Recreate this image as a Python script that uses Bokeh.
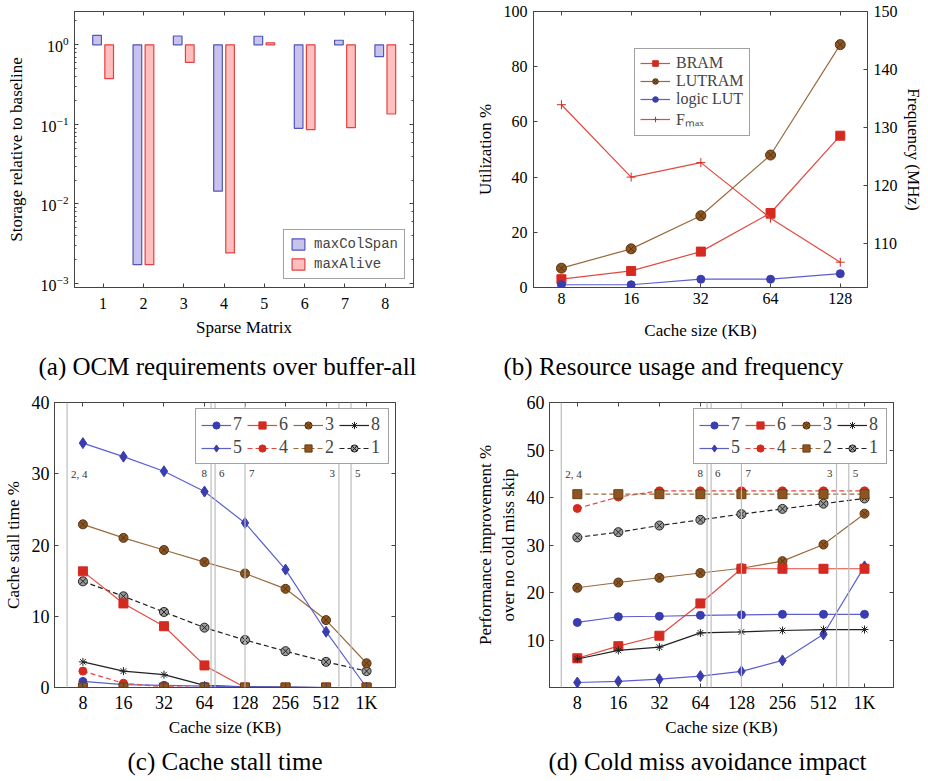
from bokeh.plotting import figure
from bokeh.layouts import column, row
from bokeh.models import (Range1d, LinearAxis, LogAxis, FixedTicker, LogTicker, Legend,
                          LegendItem, Title, BasicTickFormatter, Span, ColumnDataSource)
from bokeh.transform import dodge
from bokeh.core.properties import value
from bokeh.embed import file_html
from bokeh.resources import INLINE

# ---------------- data ----------------
# (a) OCM requirements over buffer-all
matrices = [1, 2, 3, 4, 5, 6, 7, 8]
max_col_span = [1.31, 0.00173, 1.29, 0.0145, 1.28, 0.0893, 1.14, 0.712]
max_alive = [0.375, 0.00173, 0.601, 0.00243, 1.06, 0.086, 0.091, 0.135]

# (b) Resource usage and frequency
cache_b = [8, 16, 32, 64, 128]
bram = [3.0, 6.0, 13.0, 27.0, 55.0]
lutram = [7.0, 14.0, 26.0, 48.0, 88.0]
logic_lut = [1.0, 1.0, 3.0, 3.0, 5.0]
fmax = [133.9, 121.4, 123.9, 114.3, 106.7]

# (c), (d)
cache_kb = [8, 16, 32, 64, 128, 256, 512, 1024]
cache_labels = ["8", "16", "32", "64", "128", "256", "512", "1K"]
series_names = ["7", "6", "3", "8", "5", "4", "2", "1"]
stall = {
    "7": [0.85, 0.4, 0.3, 0.2, 0.1, 0.05, 0.0, 0.0],
    "6": [16.3, 11.8, 8.6, 3.1, 0.0, 0.0, 0.0, 0.0],
    "3": [22.9, 21.0, 19.3, 17.6, 16.0, 13.85, 9.46, 3.4],
    "8": [3.6, 2.3, 1.8, 0.3, 0.1, 0.05, 0.0, 0.0],
    "5": [34.3, 32.4, 30.35, 27.5, 23.1, 16.55, 7.83, 0.0],
    "4": [2.3, 0.6, 0.1, 0.0, 0.0, 0.0, 0.0, 0.0],
    "2": [0.0, 0.0, 0.0, 0.0, 0.0, 0.0, 0.0, 0.0],
    "1": [14.9, 12.8, 10.6, 8.4, 6.67, 5.1, 3.6, 2.3],
}
improvement = {
    "7": [13.7, 14.9, 15.0, 15.2, 15.3, 15.4, 15.4, 15.4],
    "6": [6.15, 8.7, 10.9, 17.7, 25.0, 25.0, 25.0, 25.0],
    "3": [21.0, 22.1, 23.1, 24.1, 25.1, 26.6, 30.1, 36.6],
    "8": [6.0, 7.8, 8.5, 11.5, 11.7, 12.0, 12.2, 12.2],
    "5": [1.05, 1.3, 1.75, 2.4, 3.4, 5.7, 11.2, 25.5],
    "4": [37.7, 40.1, 41.4, 41.4, 41.4, 41.4, 41.4, 41.4],
    "2": [40.7, 40.7, 40.7, 40.7, 40.7, 40.7, 40.7, 40.7],
    "1": [31.6, 32.7, 34.1, 35.3, 36.5, 37.6, 38.7, 39.8],
}
ws_labels = ["2, 4", "8", "6", "7", "3", "5"]
ws_kb = [6.1, 71.6, 76.7, 128, 638, 785]

# ---------------- style ----------------
SERIF = "Liberation Serif"
MONO = "Liberation Mono"
BLUE_F, BLUE_L = "#3a3db0", "#5b5fd0"
RED_F, RED_L = "#d42a20", "#e24a40"
BROWN_F, BROWN_L = "#8c5523", "#9a6a3e"
BLACK = "#222222"
AX = "#444444"

STYLE = {
    "7": dict(marker="circle", size=8, fill=BLUE_F, edge=BLUE_F, line=BLUE_L, dash="solid"),
    "6": dict(marker="square", size=9, fill=RED_F, edge=RED_F, line=RED_L, dash="solid"),
    "3": dict(marker="circle_x", size=9, fill=BROWN_F, edge="#5a3510", line=BROWN_L, dash="solid"),
    "8": dict(marker="asterisk", size=8, fill=BLACK, edge=BLACK, line=BLACK, dash="solid"),
    "5": dict(marker="diamond", size=11, fill=BLUE_F, edge=BLUE_F, line=BLUE_L, dash="solid"),
    "4": dict(marker="circle", size=8, fill=RED_F, edge=RED_F, line=RED_L, dash="5 3"),
    "2": dict(marker="square", size=9, fill=BROWN_F, edge="#6a4010", line=BROWN_L, dash="5 3"),
    "1": dict(marker="circle_x", size=9, fill="#9a9a9a", edge=BLACK, line=BLACK, dash="5 3"),
}


def base_style(p, tick_size="16px", label_size="17px", minor=False,
               x_std=(5, 6), y_std=(5, 6)):
    p.outline_line_color = AX
    p.outline_line_width = 1
    p.grid.grid_line_color = None
    p.background_fill_color = "white"
    p.border_fill_color = "white"
    for ax in p.axis:
        if getattr(ax, "tags", None) == ["mirror"]:
            continue
        ax.major_tick_in = 4
        ax.major_tick_out = 0
        ax.minor_tick_in = 2
        ax.minor_tick_out = 0
        ax.major_tick_line_color = AX
        ax.minor_tick_line_color = AX if minor else None
        ax.axis_line_color = AX
        ax.major_label_text_font = SERIF
        ax.major_label_text_font_size = tick_size
        ax.major_label_text_color = "black"
        ax.axis_label_text_font = SERIF
        ax.axis_label_text_font_size = label_size
        ax.axis_label_text_font_style = "normal"
        ax.axis_label_text_color = "black"
    for ax in p.xaxis:
        if ax.tags != ["mirror"]:
            ax.major_label_standoff, ax.axis_label_standoff = x_std
    for ax in p.yaxis:
        if ax.tags != ["mirror"]:
            ax.major_label_standoff, ax.axis_label_standoff = y_std


def mirror(p, where, ticker, log=False, minor=False):
    ax = (LogAxis if log else LinearAxis)(ticker=ticker, tags=["mirror"])
    ax.major_label_text_font_size = "1px"
    ax.major_label_text_alpha = 0
    ax.major_label_standoff = 0
    ax.major_tick_in = 4
    ax.major_tick_out = 0
    ax.minor_tick_in = 2
    ax.minor_tick_out = 0
    ax.major_tick_line_color = AX
    ax.minor_tick_line_color = AX if minor else None
    ax.axis_line_color = AX
    p.add_layout(ax, where)
    return ax


def caption(p, text, standoff, offset):
    t = Title(text=text, align="left", offset=offset, text_font=SERIF, text_font_size="25px",
              text_font_style="normal", text_color="black", standoff=standoff)
    p.add_layout(t, "below")


# ---------------- (a) ----------------
pa = figure(width=464, height=390, y_axis_type="log", x_range=Range1d(0.29, 8.70),
            y_range=Range1d(8.93e-4, 2.62), output_backend="svg", toolbar_location=None,
            min_border_left=74, min_border_right=51, min_border_top=7, min_border_bottom=101)
src_a = ColumnDataSource(dict(m=matrices, cs=max_col_span, al=max_alive))
r_cs = pa.vbar(x=dodge("m", -0.15, range=pa.x_range), top="cs", bottom=1, width=0.215, source=src_a,
               fill_color="#c8c3ec", line_color="#5256b8", line_width=1.2)
r_al = pa.vbar(x=dodge("m", 0.15, range=pa.x_range), top="al", bottom=1, width=0.215, source=src_a,
               fill_color="#ffbfbf", line_color="#e34040", line_width=1.2)
pa.xaxis.ticker = FixedTicker(ticks=matrices)
pa.xaxis.axis_label = "Sparse Matrix"
pa.yaxis.axis_label = "Storage relative to baseline"
base_style(pa, minor=True, x_std=(10, 6), y_std=(6, 12))
pa.xaxis.minor_tick_line_color = None
mirror(pa, "above", FixedTicker(ticks=matrices))
mirror(pa, "right", LogTicker(), log=True, minor=True)
leg_a = Legend(items=[LegendItem(label="maxColSpan", renderers=[r_cs]),
                      LegendItem(label="maxAlive", renderers=[r_al])],
               location="bottom_right", label_text_font=MONO, label_text_font_size="14px",
               border_line_color=AX, border_line_width=1.2, background_fill_alpha=1,
               glyph_width=16, glyph_height=14, label_standoff=8, padding=6, spacing=4, margin=8)
pa.add_layout(leg_a)
caption(pa, "(a) OCM requirements over buffer-all", 22, -36)

# ---------------- (b) ----------------
pb = figure(width=464, height=390, x_axis_type="log", x_range=Range1d(6.06, 167.8),
            y_range=Range1d(0, 100), output_backend="svg", toolbar_location=None,
            min_border_left=69, min_border_right=61, min_border_top=11, min_border_bottom=102)
pb.extra_y_ranges = {"freq": Range1d(102.33, 150)}
l1 = pb.line(cache_b, bram, color=RED_L, line_width=1.2)
m1 = pb.scatter(cache_b, bram, marker="square", size=9, fill_color=RED_F, line_color=RED_F)
l2 = pb.line(cache_b, lutram, color=BROWN_L, line_width=1.2)
m2 = pb.scatter(cache_b, lutram, marker="circle_x", size=10, fill_color=BROWN_F, line_color="#5a3510")
l3 = pb.line(cache_b, logic_lut, color=BLUE_L, line_width=1.2)
m3 = pb.scatter(cache_b, logic_lut, marker="circle", size=8, fill_color=BLUE_F, line_color=BLUE_F)
l4 = pb.line(cache_b, fmax, color=RED_L, line_width=1.2, y_range_name="freq")
m4 = pb.scatter(cache_b, fmax, marker="cross", size=9, line_color=RED_F, y_range_name="freq")
pb.xaxis.ticker = FixedTicker(ticks=cache_b)
pb.xaxis.formatter = BasicTickFormatter()
pb.yaxis.ticker = FixedTicker(ticks=[0, 20, 40, 60, 80, 100])
pb.xaxis.axis_label = "Cache size (KB)"
pb.yaxis.axis_label = "Utilization %"
raxis = LinearAxis(y_range_name="freq", ticker=FixedTicker(ticks=[110, 120, 130, 140, 150]),
                   axis_label="Frequency (MHz)")
pb.add_layout(raxis, "right")
base_style(pb, x_std=(5, 14), y_std=(6, 6))
raxis.axis_label_standoff = 3
mirror(pb, "above", FixedTicker(ticks=cache_b))
leg_b = Legend(items=[LegendItem(label="BRAM", renderers=[l1, m1]),
                      LegendItem(label="LUTRAM", renderers=[l2, m2]),
                      LegendItem(label="logic LUT", renderers=[l3, m3]),
                      LegendItem(label="Fₘₐₓ", renderers=[l4, m4])],
               location=(101, 151), label_text_font=SERIF, label_text_font_size="16px",
               border_line_color=AX, border_line_width=1.2, background_fill_alpha=1,
               glyph_width=30, glyph_height=14, label_height=16, label_standoff=6,
               padding=5, spacing=0)
pb.add_layout(leg_b)
caption(pb, "(b) Resource usage and frequency", 16, -30)


# ---------------- (c), (d) ----------------
def cache_panel(data, yr, yticks, ylabel, left, right, ws_y, cap, xr, cap_off):
    p = figure(width=464, height=391, x_axis_type="log", x_range=Range1d(*xr),
               y_range=Range1d(*yr), output_backend="svg", toolbar_location=None,
               min_border_left=left, min_border_right=right, min_border_top=12, min_border_bottom=93)
    for v in ws_kb:
        p.add_layout(Span(location=v, dimension="height", line_color="#bdbdbd", line_width=1.2))
    sides = ["left" if lab in ("8", "3") else "right" for lab in ws_labels]
    src = ColumnDataSource(dict(x=ws_kb, y=[ws_y] * len(ws_kb), t=ws_labels,
                                align=["right" if s == "left" else "left" for s in sides],
                                off=[-4 if s == "left" else 4 for s in sides]))
    p.text(x="x", y="y", text="t", source=src, text_align="align", x_offset="off",
           text_baseline="middle", text_font=value(SERIF), text_font_size="11px", text_color="#333333")
    items = {}
    draw_order = ["1", "3", "5", "6", "8", "7", "4", "2"]
    for name in draw_order:
        s = STYLE[name]
        ln = p.line(cache_kb, data[name], color=s["line"], line_width=1.2, line_dash=s["dash"])
        mk = p.scatter(cache_kb, data[name], marker=s["marker"], size=s["size"],
                       fill_color=s["fill"], line_color=s["edge"])
        items[name] = LegendItem(label=name, renderers=[ln, mk])
    leg = Legend(items=[items[n] for n in series_names], orientation="horizontal", ncols=4,
                 location="top_right", label_text_font=SERIF, label_text_font_size="18px",
                 border_line_color=AX, border_line_width=1.2, background_fill_alpha=1,
                 glyph_width=30, glyph_height=18, label_standoff=2, label_width=12,
                 padding=5, spacing=2, margin=6, label_height=18)
    p.add_layout(leg)
    p.xaxis.ticker = FixedTicker(ticks=cache_kb)
    p.xaxis.formatter = BasicTickFormatter()
    p.xaxis.major_label_overrides = {1024: "1K"}
    p.yaxis.ticker = FixedTicker(ticks=yticks)
    p.xaxis.axis_label = "Cache size (KB)"
    p.yaxis.axis_label = ylabel
    base_style(p, tick_size="18px", label_size="17px", x_std=(5, 2), y_std=(5, 6))
    mirror(p, "above", FixedTicker(ticks=cache_kb))
    mirror(p, "right", FixedTicker(ticks=yticks))
    caption(p, cap, 13, cap_off)
    return p


pc = cache_panel(stall, (0, 40), [0, 10, 20, 30, 40], "Cache stall time %", 50, 69, 30,
                 "(c) Cache stall time", (4.92, 1679), 73)
pd = cache_panel(improvement, (0, 60), [10, 20, 30, 40, 50, 60],
                 "Performance improvement %\nover no cold miss skip", 85, 35, 45,
                 "(d) Cold miss avoidance impact", (5.0, 1671), -1)

layout = column(row(pa, pb), row(pc, pd))
open("out.html", "w").write(file_html(layout, INLINE))
